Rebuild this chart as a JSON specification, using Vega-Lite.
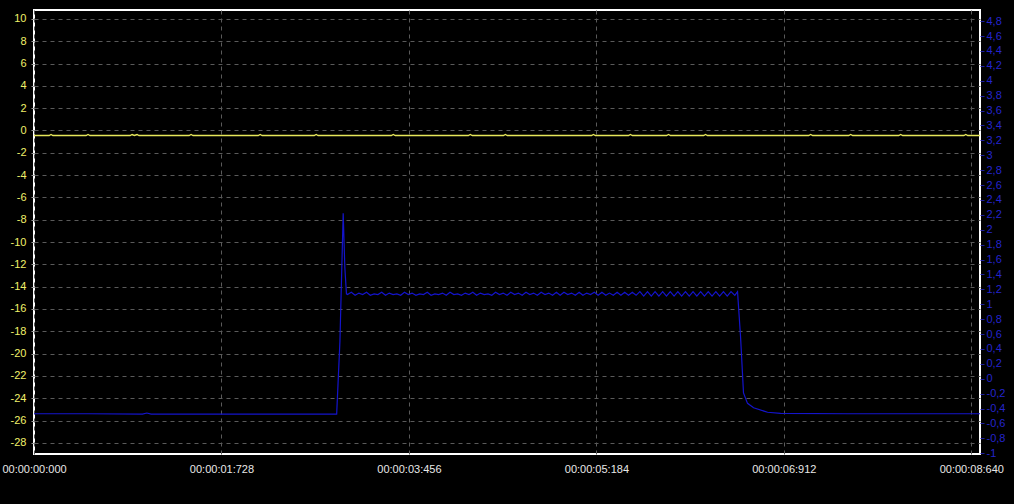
{
  "$schema": "https://vega.github.io/schema/vega-lite/v6.json",
  "width": 946,
  "height": 444,
  "autosize": "none",
  "padding": {"left": 34, "top": 10, "right": 34, "bottom": 50},
  "background": "black",
  "config": {
    "view": {"stroke": "white", "strokeWidth": 2},
    "font": "Liberation Sans",
    "axis": {"labelFont": "Liberation Sans", "labelFontSize": 11, "domain": false, "titleFontSize": 0}
  },
  "datasets": {
    "yellow": [
      {"t": 0, "v": -0.45}, {"t": 140, "v": -0.45}, {"t": 157, "v": -0.36}, {"t": 174, "v": -0.45},
      {"t": 480, "v": -0.45}, {"t": 498, "v": -0.36}, {"t": 516, "v": -0.45},
      {"t": 886, "v": -0.45}, {"t": 904, "v": -0.36}, {"t": 925, "v": -0.45}, {"t": 950, "v": -0.36}, {"t": 968, "v": -0.45},
      {"t": 1430, "v": -0.45}, {"t": 1448, "v": -0.36}, {"t": 1466, "v": -0.45},
      {"t": 2067, "v": -0.45}, {"t": 2085, "v": -0.36}, {"t": 2103, "v": -0.45},
      {"t": 2583, "v": -0.45}, {"t": 2601, "v": -0.36}, {"t": 2619, "v": -0.45},
      {"t": 3294, "v": -0.45}, {"t": 3312, "v": -0.36}, {"t": 3330, "v": -0.45},
      {"t": 4004, "v": -0.45}, {"t": 4022, "v": -0.36}, {"t": 4040, "v": -0.45},
      {"t": 4327, "v": -0.45}, {"t": 4345, "v": -0.36}, {"t": 4363, "v": -0.45},
      {"t": 5139, "v": -0.45}, {"t": 5157, "v": -0.36}, {"t": 5175, "v": -0.45},
      {"t": 5480, "v": -0.45}, {"t": 5498, "v": -0.36}, {"t": 5516, "v": -0.45},
      {"t": 5831, "v": -0.45}, {"t": 5849, "v": -0.36}, {"t": 5867, "v": -0.45},
      {"t": 6172, "v": -0.45}, {"t": 6190, "v": -0.36}, {"t": 6208, "v": -0.45},
      {"t": 7141, "v": -0.45}, {"t": 7159, "v": -0.36}, {"t": 7177, "v": -0.45},
      {"t": 7510, "v": -0.45}, {"t": 7528, "v": -0.36}, {"t": 7546, "v": -0.45},
      {"t": 7971, "v": -0.45}, {"t": 7989, "v": -0.36}, {"t": 8007, "v": -0.45},
      {"t": 8571, "v": -0.45}, {"t": 8589, "v": -0.36}, {"t": 8607, "v": -0.45},
      {"t": 8720, "v": -0.45}
    ],
    "blue": [
      {"t": 0, "v": -0.47}, {"t": 500, "v": -0.47}, {"t": 1000, "v": -0.475}, {"t": 1040, "v": -0.46}, {"t": 1080, "v": -0.475},
      {"t": 1500, "v": -0.475}, {"t": 2000, "v": -0.475}, {"t": 2500, "v": -0.475}, {"t": 2790, "v": -0.475},
      {"t": 2820, "v": 0.5}, {"t": 2850, "v": 2.22}, {"t": 2865, "v": 1.5}, {"t": 2880, "v": 1.14},
      {"t": 2890, "v": 1.13}, {"t": 2925, "v": 1.16}, {"t": 2960, "v": 1.12}, {"t": 2995, "v": 1.15},
      {"t": 3030, "v": 1.13}, {"t": 3065, "v": 1.16}, {"t": 3100, "v": 1.12}, {"t": 3135, "v": 1.14},
      {"t": 3170, "v": 1.13}, {"t": 3205, "v": 1.16}, {"t": 3240, "v": 1.12}, {"t": 3275, "v": 1.15},
      {"t": 3310, "v": 1.13}, {"t": 3345, "v": 1.14}, {"t": 3380, "v": 1.12}, {"t": 3415, "v": 1.16},
      {"t": 3450, "v": 1.13}, {"t": 3485, "v": 1.15}, {"t": 3520, "v": 1.12}, {"t": 3555, "v": 1.14},
      {"t": 3590, "v": 1.13}, {"t": 3625, "v": 1.16}, {"t": 3660, "v": 1.12}, {"t": 3695, "v": 1.14},
      {"t": 3730, "v": 1.13}, {"t": 3765, "v": 1.15}, {"t": 3800, "v": 1.12}, {"t": 3835, "v": 1.16},
      {"t": 3870, "v": 1.13}, {"t": 3905, "v": 1.14}, {"t": 3940, "v": 1.12}, {"t": 3975, "v": 1.15},
      {"t": 4010, "v": 1.13}, {"t": 4045, "v": 1.16}, {"t": 4080, "v": 1.12}, {"t": 4115, "v": 1.15},
      {"t": 4150, "v": 1.13}, {"t": 4185, "v": 1.14}, {"t": 4220, "v": 1.12}, {"t": 4255, "v": 1.16},
      {"t": 4290, "v": 1.13}, {"t": 4325, "v": 1.15}, {"t": 4360, "v": 1.12}, {"t": 4395, "v": 1.16},
      {"t": 4430, "v": 1.13}, {"t": 4465, "v": 1.15}, {"t": 4500, "v": 1.12}, {"t": 4535, "v": 1.16},
      {"t": 4570, "v": 1.13}, {"t": 4605, "v": 1.15}, {"t": 4640, "v": 1.12}, {"t": 4675, "v": 1.16},
      {"t": 4710, "v": 1.13}, {"t": 4745, "v": 1.15}, {"t": 4780, "v": 1.12}, {"t": 4815, "v": 1.16},
      {"t": 4850, "v": 1.12}, {"t": 4885, "v": 1.16}, {"t": 4920, "v": 1.13}, {"t": 4955, "v": 1.15},
      {"t": 4990, "v": 1.12}, {"t": 5025, "v": 1.16}, {"t": 5060, "v": 1.12}, {"t": 5095, "v": 1.15},
      {"t": 5130, "v": 1.13}, {"t": 5165, "v": 1.16}, {"t": 5200, "v": 1.12}, {"t": 5235, "v": 1.16},
      {"t": 5270, "v": 1.12}, {"t": 5305, "v": 1.15}, {"t": 5340, "v": 1.12}, {"t": 5375, "v": 1.16},
      {"t": 5410, "v": 1.12}, {"t": 5445, "v": 1.16}, {"t": 5480, "v": 1.12}, {"t": 5515, "v": 1.16},
      {"t": 5550, "v": 1.12}, {"t": 5585, "v": 1.17}, {"t": 5620, "v": 1.11}, {"t": 5655, "v": 1.17},
      {"t": 5690, "v": 1.11}, {"t": 5725, "v": 1.17}, {"t": 5760, "v": 1.11}, {"t": 5795, "v": 1.17},
      {"t": 5830, "v": 1.11}, {"t": 5865, "v": 1.17}, {"t": 5900, "v": 1.11}, {"t": 5935, "v": 1.17},
      {"t": 5970, "v": 1.11}, {"t": 6005, "v": 1.17}, {"t": 6040, "v": 1.11}, {"t": 6075, "v": 1.17},
      {"t": 6110, "v": 1.11}, {"t": 6145, "v": 1.17}, {"t": 6180, "v": 1.11}, {"t": 6215, "v": 1.17},
      {"t": 6250, "v": 1.11}, {"t": 6285, "v": 1.17}, {"t": 6320, "v": 1.11}, {"t": 6355, "v": 1.17},
      {"t": 6390, "v": 1.11}, {"t": 6425, "v": 1.17}, {"t": 6460, "v": 1.12}, {"t": 6485, "v": 1.17},
      {"t": 6513, "v": 0.56}, {"t": 6540, "v": -0.19}, {"t": 6577, "v": -0.33}, {"t": 6633, "v": -0.39},
      {"t": 6762, "v": -0.45}, {"t": 6882, "v": -0.465}, {"t": 7500, "v": -0.47}, {"t": 8000, "v": -0.47}, {"t": 8720, "v": -0.47}
    ]
  },
  "encoding": {
    "x": {
      "field": "t", "type": "quantitative",
      "scale": {"domain": [0, 8720], "nice": false, "zero": false},
      "axis": {
        "title": null,
        "values": [0, 1728, 3456, 5184, 6912, 8640],
        "labelExpr": "'00:00:' + pad(toString(floor(datum.value/1000)), 2, '0', 'left') + ':' + pad(toString(datum.value % 1000), 3, '0', 'left')",
        "labelColor": "#e8e8e8",
        "labelFontSize": 11,
        "labelPadding": 9,
        "labelOverlap": false,
        "labelBound": false,
        "labelFlush": false,
        "ticks": false,
        "grid": true,
        "gridColor": "#5a5a5a",
        "gridDash": [4, 4],
        "gridWidth": 1
      }
    }
  },
  "layer": [
    {
      "data": {"name": "yellow"},
      "mark": {"type": "line", "color": "#e6e65a", "strokeWidth": 1.4},
      "encoding": {
        "y": {
          "field": "v", "type": "quantitative",
          "scale": {"domain": [-29, 10.8], "nice": false, "zero": false},
          "axis": {
            "title": null,
            "orient": "left",
            "values": [-28, -26, -24, -22, -20, -18, -16, -14, -12, -10, -8, -6, -4, -2, 0, 2, 4, 6, 8, 10],
            "labelExpr": "toString(datum.value)",
            "labelColor": "#f0f06a",
            "labelFontSize": 11,
            "labelPadding": 5,
            "tickSize": 3,
            "tickColor": "#999999",
            "grid": true,
            "gridColor": "#5a5a5a",
            "gridDash": [4, 4],
            "gridWidth": 1
          }
        }
      }
    },
    {
      "data": {"name": "blue"},
      "mark": {"type": "line", "color": "#1414cc", "strokeWidth": 1.2},
      "encoding": {
        "y": {
          "field": "v", "type": "quantitative",
          "scale": {"domain": [-1.01, 4.95], "nice": false, "zero": false},
          "axis": {
            "title": null,
            "orient": "right",
            "values": [-1, -0.8, -0.6, -0.4, -0.2, 0, 0.2, 0.4, 0.6, 0.8, 1, 1.2, 1.4, 1.6, 1.8, 2, 2.2, 2.4, 2.6, 2.8, 3, 3.2, 3.4, 3.6, 3.8, 4, 4.2, 4.4, 4.6, 4.8],
            "labelExpr": "replace(toString(round(datum.value*10)/10), '.', ',')",
            "labelColor": "#2424cc",
            "labelFontSize": 11,
            "labelPadding": 2,
            "tickSize": 4,
            "tickColor": "#1c1c99",
            "grid": false
          }
        }
      }
    }
  ],
  "resolve": {"scale": {"y": "independent"}}
}
